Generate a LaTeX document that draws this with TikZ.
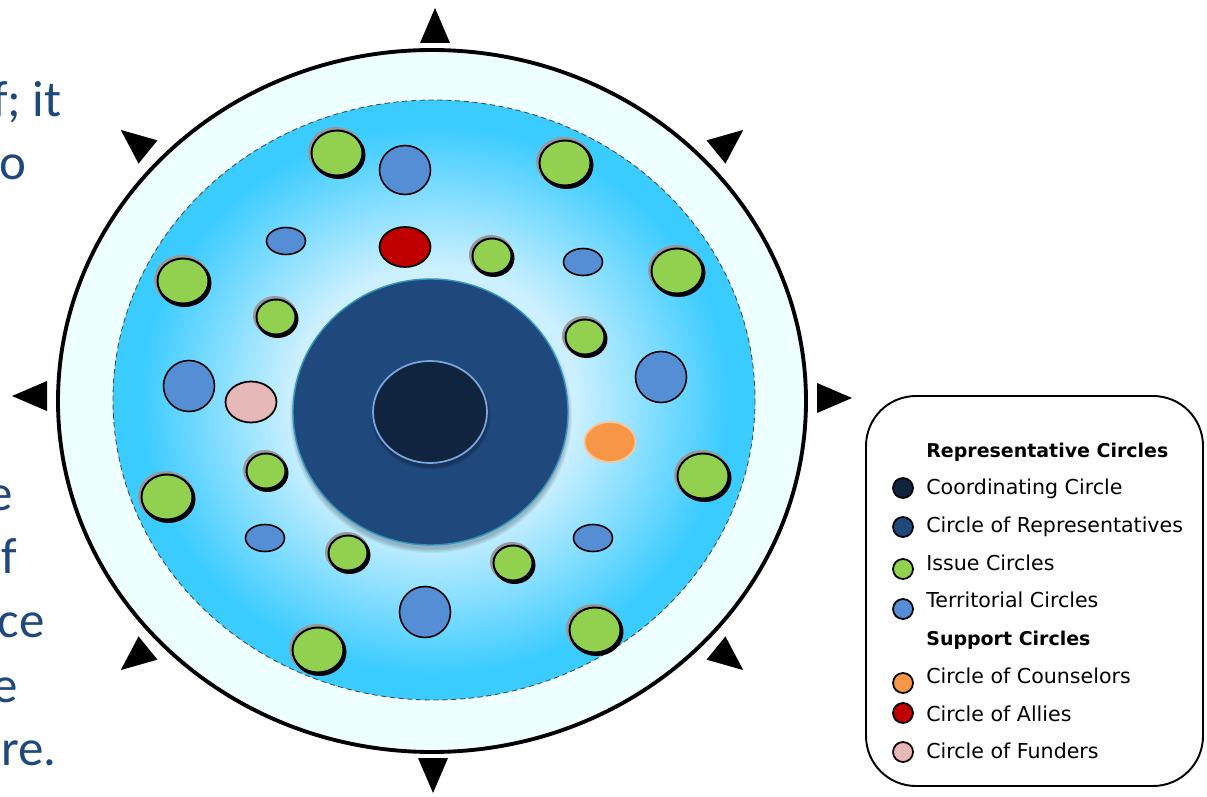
\documentclass[tikz,border=0pt]{standalone}
\usepackage{fontspec}
\setmainfont{DejaVu Sans}
\newfontfamily\slidefont{Carlito}
\usepackage{xcolor}

\definecolor{slideblue}{HTML}{1F497D}
\definecolor{ringfill}{HTML}{EEFFFF}
\definecolor{disccyan}{HTML}{3ACBFF}
\definecolor{discpale}{HTML}{CDF0FF}
\definecolor{repblue}{HTML}{1F497D}
\definecolor{coordblue}{HTML}{10243E}
\definecolor{issuegreen}{HTML}{92D050}
\definecolor{terrblue}{HTML}{558ED5}
\definecolor{allyred}{HTML}{C00000}
\definecolor{funderpink}{HTML}{E6B9B8}
\definecolor{counselorange}{HTML}{F79646}

\pgfdeclareradialshading{discfade}{\pgfpoint{0bp}{0bp}}{color(0bp)=(discpale); color(11bp)=(discpale); color(23bp)=(disccyan); color(25bp)=(disccyan); color(50bp)=(disccyan)}

\tikzset{
	issue/.style={fill=issuegreen, draw=black, line width=1.1pt},
	terr/.style={fill=terrblue, draw=black, line width=0.9pt},
	dot/.style={draw=black, line width=1pt},
	slidetext/.style={inner sep=0, anchor=base east, text=slideblue, font=\slidefont\fontsize{29}{35}\selectfont},
	keytext/.style={inner sep=0, anchor=base west, font=\fontsize{11.7}{14}\selectfont},
	keyhead/.style={inner sep=0, anchor=base west, font=\bfseries\fontsize{10.8}{13}\selectfont},
}

\begin{document}
\begin{tikzpicture}[x=0.02cm, y=-0.02cm]
	\useasboundingbox (0,0) rectangle (1207,797);

	% cut-off slide text on the left
	\node[slidetext] (tA) at (62,117) {f; it};
	\node[slidetext] (tB) at (27,180) {o};
	\node[slidetext] (tC) at (13,510) {e};
	\node[slidetext] (tD) at (17,573) {f};
	\node[slidetext] (tE) at (45,637) {ce};
	\node[slidetext] (tF) at (18,702) {e};
	\node[slidetext] (tG) at (57,765) {re.};

	% rings
	\draw[line width=2.2pt, fill=ringfill] (432,401) ellipse [x radius=374, y radius=351];
	\shade[shading=discfade] (434,400) ellipse [x radius=321, y radius=300];
	\draw[gray!60!black, line width=0.5pt, densely dashed] (434,400) ellipse [x radius=321, y radius=300];

	% arrowheads round the ring
	\foreach \bx/\by/\dx/\dy in {435/43/0/-1, 433/758/0/1, 47/396/-1/0, 817/398/1/0,
		148/152/-0.776/-0.630, 716/152/0.776/-0.630, 148/648/-0.776/0.630, 716/648/0.776/0.630}
		\fill ({\bx-15*(\dy)},{\by+15*(\dx)}) -- ({\bx+35*(\dx)},{\by+35*(\dy)}) -- ({\bx+15*(\dy)},{\by-15*(\dx)}) -- cycle;

	% centre circles
	\foreach \k in {1,...,5}
		\fill[black, opacity=0.05] (431,416) ellipse [x radius=136+\k, y radius=132+\k];
	\draw[fill=repblue, draw=cyan!50!teal, line width=0.8pt] (430.5,412) ellipse [x radius=137.5, y radius=133];
	\foreach \k in {1,...,4}
		\fill[black, opacity=0.07] (431,416) ellipse [x radius=56+\k, y radius=50+\k];
	\draw[fill=coordblue, draw=terrblue!80!white, line width=1pt] (430,412) ellipse [x radius=57, y radius=51];

	% issue circles
	\foreach \cx/\cy/\rx/\ry in {337/153/27/24, 565/163/27/24, 183/281/27/24, 677/271/27/24,
		167/497/27/24, 703/476/27/24, 318/650/27/24, 595/630/27/24,
		276/317/21/19, 585/337/21/19, 492/256/21/19, 266/471/21/19,
		348/553/21/19, 513/563/21/19}{
		\fill[black!40] (\cx-1,\cy-1) ellipse [x radius=\rx+1, y radius=\ry+1];
		\fill[black] (\cx+1.5,\cy+2) ellipse [x radius=\rx, y radius=\ry];
		\draw[issue] (\cx,\cy) ellipse [x radius=\rx-1.5, y radius=\ry-1.5];
	}

	% territorial circles
	\foreach \cx/\cy/\rx/\ry in {405/170/26/25, 189/386/26/26, 661/377/26/26, 425/612/26/26,
		286/241/20/14, 583/262/20/14, 265/538/20/14, 593/538/20/14}
		\draw[terr] (\cx,\cy) ellipse [x radius=\rx-0.5, y radius=\ry-0.5];

	% support circles
	\draw[dot, fill=allyred] (405,247) ellipse [x radius=25.5, y radius=20];
	\draw[dot, fill=funderpink] (251,402) ellipse [x radius=25.5, y radius=20.5];
	\draw[fill=counselorange, draw=counselorange!55!white, line width=1pt] (610,442) ellipse [x radius=25.5, y radius=20];

	% legend
	\draw[line width=1.1pt, rounded corners=1cm] (866,396) rectangle (1203,786);
	\node[keyhead] (hRep) at (926,457) {Representative Circles};
	\draw[dot, fill=coordblue] (903,488) circle [radius=10];
	\node[keytext] (kCoord) at (926,494) {Coordinating Circle};
	\draw[dot, fill=repblue] (903,527) circle [radius=10];
	\node[keytext] (kRep) at (926,532) {Circle of Representatives};
	\draw[dot, fill=issuegreen] (903,569) circle [radius=10];
	\node[keytext] (kIssue) at (926,570) {Issue Circles};
	\draw[dot, fill=terrblue] (903,609) circle [radius=10];
	\node[keytext] (kTerr) at (926,607) {Territorial Circles};
	\node[keyhead] (hSup) at (926,645) {Support Circles};
	\draw[dot, fill=counselorange] (903,683) circle [radius=10];
	\node[keytext] (kCoun) at (926,683) {Circle of Counselors};
	\draw[dot, fill=allyred] (903,713) circle [radius=10];
	\node[keytext] (kAlly) at (926,721) {Circle of Allies};
	\draw[dot, fill=funderpink] (903,752) circle [radius=10];
	\node[keytext] (kFund) at (926,758) {Circle of Funders};
\end{tikzpicture}
\end{document}
